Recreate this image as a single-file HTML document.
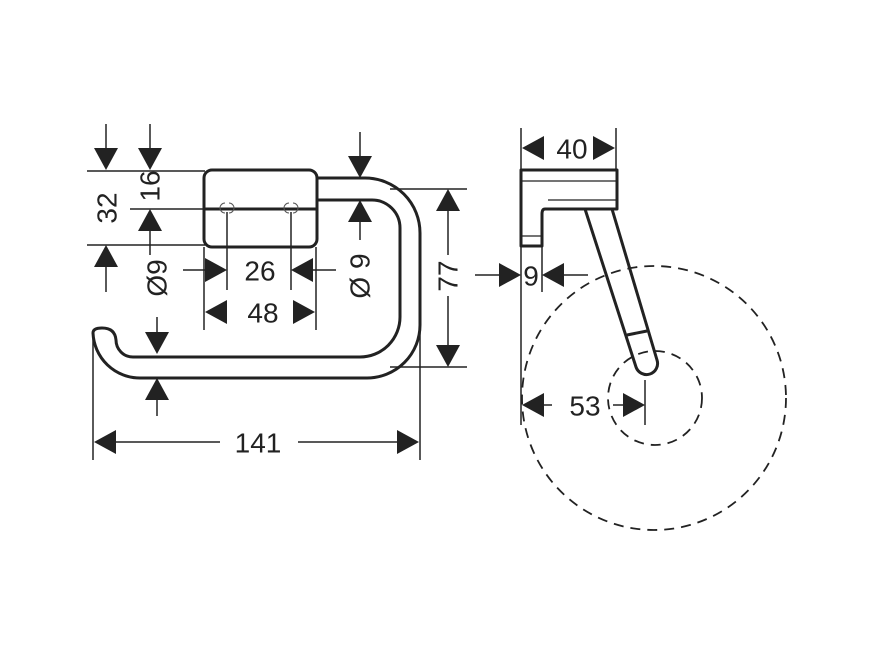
<!DOCTYPE html>
<html><head><style>html,body{margin:0;padding:0;background:#fff}svg{display:block}</style></head><body>
<svg width="877" height="657" viewBox="0 0 877 657" xmlns="http://www.w3.org/2000/svg" font-family="Liberation Sans, sans-serif" font-size="28" fill="#222">
<defs>
<path id="ad" d="M0,0 L-12,-22 L12,-22 Z"/>
</defs>
<g stroke="#222" stroke-width="1.5" fill="none">
<line x1="87" y1="171" x2="205" y2="171"/>
<line x1="130" y1="209" x2="205" y2="209"/>
<line x1="87" y1="245" x2="205" y2="245"/>
<line x1="106" y1="124" x2="106" y2="150"/>
<line x1="150" y1="124" x2="150" y2="150"/>
<line x1="150" y1="230" x2="150" y2="255"/>
<line x1="106" y1="266" x2="106" y2="292"/>
<line x1="227" y1="212" x2="227" y2="290"/>
<line x1="291" y1="212" x2="291" y2="290"/>
<line x1="204" y1="247" x2="204" y2="330"/>
<line x1="316" y1="247" x2="316" y2="330"/>
<line x1="183" y1="270" x2="205" y2="270"/>
<line x1="313" y1="270" x2="336" y2="270"/>
<line x1="157" y1="317" x2="157" y2="332"/>
<line x1="157" y1="400" x2="157" y2="416"/>
<line x1="360" y1="132" x2="360" y2="156"/>
<line x1="360" y1="222" x2="360" y2="240"/>
<line x1="390" y1="189" x2="467" y2="189"/>
<line x1="390" y1="367" x2="467" y2="367"/>
<line x1="448" y1="211" x2="448" y2="255"/>
<line x1="448" y1="296" x2="448" y2="345"/>
<line x1="93" y1="335" x2="93" y2="460"/>
<line x1="420" y1="300" x2="420" y2="460"/>
<line x1="115" y1="442" x2="220" y2="442"/>
<line x1="298" y1="442" x2="398" y2="442"/>
<line x1="521" y1="128" x2="521" y2="170"/>
<line x1="616" y1="128" x2="616" y2="170"/>
<line x1="521" y1="246" x2="521" y2="425"/>
<line x1="542" y1="246" x2="542" y2="292"/>
<line x1="475" y1="275" x2="500" y2="275"/>
<line x1="564" y1="275" x2="588" y2="275"/>
<line x1="544" y1="405" x2="552" y2="405"/>
<line x1="613" y1="405" x2="623" y2="405"/>
<line x1="645" y1="380" x2="645" y2="425"/>
</g>
<use href="#ad" transform="translate(106,170)"/>
<use href="#ad" transform="translate(150,170)"/>
<use href="#ad" transform="translate(150,209) rotate(180)"/>
<use href="#ad" transform="translate(106,245) rotate(180)"/>
<use href="#ad" transform="translate(227,270) rotate(-90)"/>
<use href="#ad" transform="translate(291,270) rotate(90)"/>
<use href="#ad" transform="translate(205,312) rotate(90)"/>
<use href="#ad" transform="translate(315,312) rotate(-90)"/>
<use href="#ad" transform="translate(157,354)"/>
<use href="#ad" transform="translate(157,378) rotate(180)"/>
<use href="#ad" transform="translate(360,178)"/>
<use href="#ad" transform="translate(360,200) rotate(180)"/>
<use href="#ad" transform="translate(448,189) rotate(180)"/>
<use href="#ad" transform="translate(448,367)"/>
<use href="#ad" transform="translate(94,442) rotate(90)"/>
<use href="#ad" transform="translate(419,442) rotate(-90)"/>
<use href="#ad" transform="translate(522,148) rotate(90)"/>
<use href="#ad" transform="translate(615,148) rotate(-90)"/>
<use href="#ad" transform="translate(521,275) rotate(-90)"/>
<use href="#ad" transform="translate(542,275) rotate(90)"/>
<use href="#ad" transform="translate(522,405) rotate(90)"/>
<use href="#ad" transform="translate(645,405) rotate(-90)"/>
<g stroke="#222" stroke-width="3" fill="none" stroke-linejoin="round">
<rect x="204" y="170" width="113" height="77" rx="8"/>
<path d="M317,178 H365 A55,55 0 0 1 420,233 V325 A53,53 0 0 1 367,378 H140 A47,47 0 0 1 93,333 Q93,328 102,328 Q115,328 116,340 A17,17 0 0 0 133,357 H360 A40,40 0 0 0 400,317 V228 A28,28 0 0 0 372,200 H317"/>
</g>
<line x1="204" y1="209" x2="317" y2="209" stroke="#222" stroke-width="3"/>
<g stroke="#555" stroke-width="1" fill="none">
<path d="M225,203 A5,5 0 0 0 225,213"/><path d="M229,203 A5,5 0 0 1 229,213"/>
<path d="M289,203 A5,5 0 0 0 289,213"/><path d="M293,203 A5,5 0 0 1 293,213"/>
</g>
<g stroke="#222" stroke-width="3" fill="none" stroke-linejoin="round">
<path d="M521,170 H617 V209 H545 Q542,209 542,214 V246 H521 Z"/>
<path d="M585,209 L636,367 A11,11 0 0 0 657,360 L612,209"/>
<line x1="627" y1="335" x2="647" y2="331"/>
</g>
<g stroke="#222" stroke-width="1.2" fill="none">
<line x1="521" y1="181" x2="617" y2="181"/>
<line x1="548" y1="200" x2="617" y2="200"/>
<line x1="521" y1="236" x2="542" y2="236"/>
</g>
<g stroke="#222" stroke-width="1.8" fill="none" stroke-dasharray="10,7">
<circle cx="654" cy="398" r="132"/>
<circle cx="655" cy="398" r="47"/>
</g>
<g text-anchor="middle" dominant-baseline="central">
<text x="260" y="271">26</text>
<text x="263" y="313">48</text>
<text x="258" y="443">141</text>
<text x="572" y="149">40</text>
<text x="531" y="276">9</text>
<text x="585" y="406">53</text>
<text transform="translate(107,208) rotate(-90)">32</text>
<text transform="translate(150,186) rotate(-90)">16</text>
<text transform="translate(157,278) rotate(-90)">Ø9</text>
<text transform="translate(360,276) rotate(-90)">Ø 9</text>
<text transform="translate(448,276) rotate(-90)">77</text>
</g>
</svg>
</body></html>
